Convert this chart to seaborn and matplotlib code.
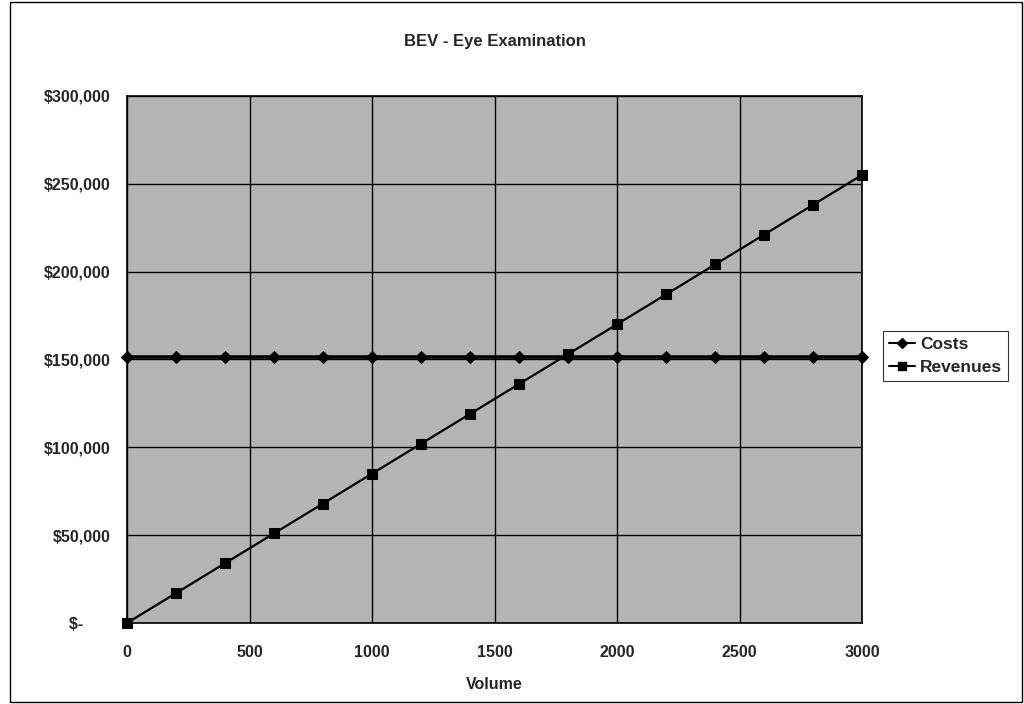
import numpy as np
import pandas as pd
import matplotlib
matplotlib.use("Agg")
import matplotlib.pyplot as plt
from matplotlib.ticker import FuncFormatter
from matplotlib.patches import Rectangle
from matplotlib.lines import Line2D
import seaborn as sns

volume = [0, 200, 400, 600, 800, 1000, 1200, 1400, 1600, 1800, 2000, 2200, 2400, 2600, 2800, 3000]
costs = [151500] * 16
revenues = [0, 17000, 34000, 51000, 68000, 85000, 102000, 119000, 136000, 153000,
            170000, 187000, 204000, 221000, 238000, 255000]

df_costs = pd.DataFrame({"Volume": volume, "Value": costs})
df_rev = pd.DataFrame({"Volume": volume, "Value": revenues})

sns.set_style("white")
plt.rcParams['font.family'] = ['Liberation Sans', 'DejaVu Sans']

fig = plt.figure(figsize=(10.24, 7.04), dpi=100)
ax = fig.add_axes([0.124, 0.115, 0.718, 0.749])
ax.set_facecolor("#b4b4b4")

sns.lineplot(data=df_costs, x="Volume", y="Value", color="black", marker="D",
             markersize=6.5, markeredgecolor="black", linewidth=2.6, ax=ax,
             clip_on=False, zorder=4)
sns.lineplot(data=df_rev, x="Volume", y="Value", color="black", marker="s",
             markersize=7, markeredgecolor="black", linewidth=1.6, ax=ax,
             clip_on=False, zorder=5)

ax.set_xlim(0, 3000)
ax.set_ylim(0, 300000)
ax.set_xticks(range(0, 3001, 500))
ax.set_yticks(range(0, 300001, 50000))
ax.grid(True, color="black", linewidth=1.0)
ax.set_axisbelow(True)
for s in ax.spines.values():
    s.set_color("black")
    s.set_linewidth(1.2)

def fmt(v, pos):
    if v == 0:
        return "$-      "
    return "${:,.0f}".format(v)

ax.yaxis.set_major_formatter(FuncFormatter(fmt))
ax.tick_params(axis="y", labelsize=11.5, length=0, pad=12)
ax.tick_params(axis="x", labelsize=11.5, length=0, pad=16)
for lbl in ax.get_xticklabels() + ax.get_yticklabels():
    lbl.set_fontweight("bold")
ax.set_xlabel("Volume", fontsize=11.5, fontweight="bold", labelpad=12)
ax.set_ylabel("")
ax.set_title("BEV - Eye Examination", fontsize=12, fontweight="bold", pad=36)

handles = [Line2D([], [], color="black", marker="D", markersize=5, linewidth=1.5),
           Line2D([], [], color="black", marker="s", markersize=5.5, linewidth=1.5)]
leg = fig.legend(handles, ["Costs", "Revenues"], loc="upper left",
                 bbox_to_anchor=(0.862, 0.53), frameon=True, fancybox=False,
                 fontsize=12.5, handlelength=1.5, handletextpad=0.3,
                 borderpad=0.35, labelspacing=0.45, borderaxespad=0)
leg.get_frame().set_edgecolor("black")
leg.get_frame().set_linewidth(0.8)
for t in leg.get_texts():
    t.set_fontweight("bold")

fig.patches.append(Rectangle((0.01, 0.003), 0.988, 0.994, transform=fig.transFigure,
                             fill=False, edgecolor="black", linewidth=1.0))

fig.savefig("out.png", dpi=100)
